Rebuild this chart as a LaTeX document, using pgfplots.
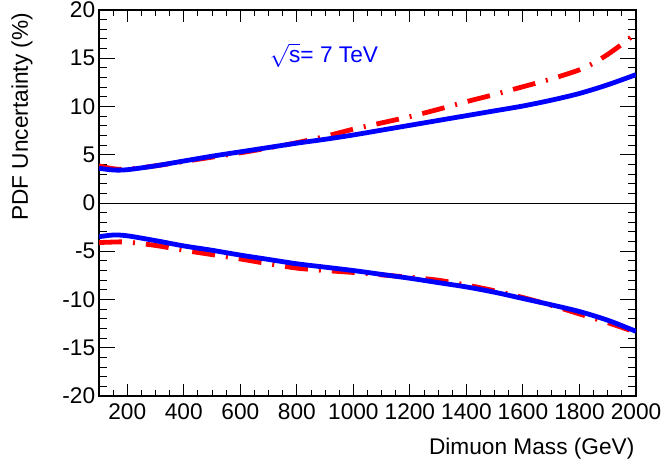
\documentclass[border=0pt]{standalone}
\usepackage{fontspec}
\setmainfont{Liberation Sans}
\usepackage{pgfplots}
\pgfplotsset{compat=1.18}

% 1 px of the reference = 0.75pt
\definecolor{rootblue}{RGB}{0,0,255}
\definecolor{rootred}{RGB}{255,0,0}

\begin{document}
\fontsize{17}{20}\selectfont
\begin{tikzpicture}
\begin{axis}[
    scale only axis,
    width=402.75pt, height=289.5pt,
    xmin=100, xmax=2000,
    ymin=-20, ymax=20,
    xtick={200,400,...,2000},
    minor xtick={100,150,...,2000},
    ytick={-20,-15,...,20},
    minor ytick={-20,-19,...,20},
    tick align=inside,
    ticklabel pos=left,
    axis line style={line width=0.8pt},
    xtick style={black, line width=0.7pt, /pgfplots/major tick length=8.7pt, /pgfplots/minor tick length=4.35pt},
    ytick style={black, line width=0.7pt, /pgfplots/major tick length=12pt, /pgfplots/minor tick length=6pt},
    scaled ticks=false,
    /pgf/number format/assume math mode=true,
    /pgf/number format/1000 sep={},
    tick label style={font=\fontsize{17}{20}\selectfont},
    yticklabel style={xshift=3pt},
]
% zero line
\addplot[black, line width=0.6pt] coordinates {(100,0) (2000,0)};

% red dash-dotted: upper and lower
\addplot[rootred, line width=3.6pt, smooth, dash pattern=on 17.25pt off 8.25pt on 1.5pt off 8.25pt] coordinates {
(100,3.85) (150,3.55) (200,3.5) (300,3.85) (400,4.3) (500,4.75) (600,5.2) (700,5.7)
(800,6.25) (900,6.9) (1000,7.65) (1100,8.3) (1200,8.95) (1300,9.7) (1400,10.5)
(1500,11.25) (1600,12.05) (1700,12.85) (1800,13.8) (1850,14.5) (1900,15.4) (1950,16.45) (2000,17.6)};
\addplot[rootred, line width=3.6pt, smooth, dash pattern=on 17.25pt off 8.25pt on 1.5pt off 8.25pt] coordinates {
(100,-4.1) (150,-4.05) (200,-4.05) (300,-4.4) (400,-4.9) (500,-5.35) (600,-5.8) (700,-6.3)
(800,-6.75) (900,-7.0) (1000,-7.2) (1100,-7.45) (1200,-7.7) (1300,-8.0) (1400,-8.5)
(1500,-9.1) (1600,-9.8) (1700,-10.6) (1800,-11.5) (1900,-12.4) (2000,-13.4)};

% blue solid: upper and lower
\addplot[rootblue, line width=3.6pt, smooth] coordinates {
(100,3.6) (150,3.42) (200,3.45) (300,3.85) (400,4.35) (500,4.85) (600,5.3) (700,5.75)
(800,6.2) (900,6.6) (1000,7.05) (1100,7.55) (1200,8.05) (1300,8.55) (1400,9.05)
(1500,9.55) (1600,10.05) (1700,10.65) (1800,11.35) (1900,12.25) (2000,13.3)};
\addplot[rootblue, line width=3.6pt, smooth] coordinates {
(100,-3.5) (150,-3.32) (200,-3.4) (300,-3.9) (400,-4.45) (500,-4.9) (600,-5.4) (700,-5.85)
(800,-6.3) (900,-6.65) (1000,-7.0) (1100,-7.4) (1200,-7.8) (1300,-8.25) (1400,-8.7)
(1500,-9.25) (1600,-9.9) (1700,-10.55) (1800,-11.25) (1900,-12.15) (2000,-13.3)};

\node[rootblue, anchor=center] at (axis cs:896,15.3) {$\sqrt{\mbox{s}}$= 7 TeV};
\end{axis}

\node[rotate=90, anchor=east, inner sep=0pt] at ([xshift=-57.75pt,yshift=-2pt]current axis.north west) {PDF Uncertainty (\%)};
\node[anchor=east, inner sep=0pt] at ([xshift=-1pt,yshift=-39.75pt]current axis.south east) {Dimuon Mass (GeV)};

\pgfresetboundingbox
\path ([shift={(-74.25pt,-54pt)}]current axis.south west) rectangle ([shift={(20.25pt,7.5pt)}]current axis.north east);
\end{tikzpicture}
\end{document}
